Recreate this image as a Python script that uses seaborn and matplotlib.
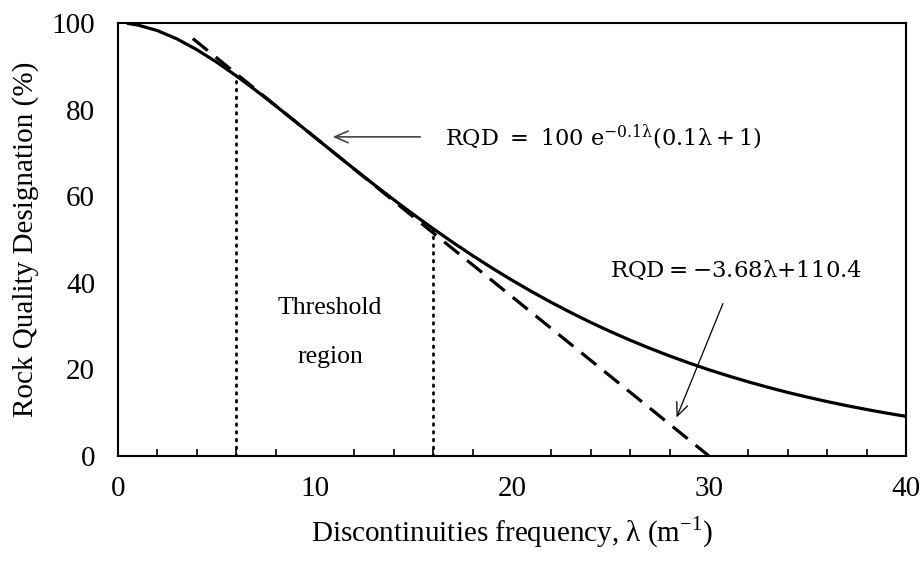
import matplotlib
matplotlib.use("Agg")
import matplotlib.pyplot as plt
import seaborn as sns
import pandas as pd
from matplotlib.ticker import MultipleLocator

# ---- data ----
freq = [0.5, 1, 2, 3, 4, 5, 6, 7, 8, 9, 10, 11, 12, 13, 14, 15, 16, 17, 18, 19, 20,
        21, 22, 23, 24, 25, 26, 27, 28, 29, 30, 31, 32, 33, 34, 35, 36, 37, 38, 39, 40]
rqd_curve = [99.9, 99.53, 98.25, 96.31, 93.84, 90.98, 87.81, 84.42, 80.88, 77.25, 73.58,
             69.90, 66.26, 62.68, 59.18, 55.78, 52.49, 49.32, 46.28, 43.38, 40.60,
             37.96, 35.46, 33.09, 30.84, 28.73, 26.74, 24.87, 23.11, 21.46, 19.91,
             18.47, 17.12, 15.86, 14.68, 13.59, 12.57, 11.62, 10.74, 9.92, 9.16]
lin_x = [3.8, 30.0]
lin_y = [96.4, 0.0]
threshold_x = [6, 16]
threshold_top = [87.8, 52.5]

x_ticks = [0, 10, 20, 30, 40]
y_ticks = [0, 20, 40, 60, 80, 100]

sns.set_theme(style="white")
plt.rcParams['font.family'] = ['Liberation Serif', 'DejaVu Serif']
plt.rcParams['mathtext.fontset'] = 'custom'
plt.rcParams['mathtext.rm'] = 'DejaVu Serif'
plt.rcParams['mathtext.it'] = 'DejaVu Serif:italic'
plt.rcParams['mathtext.sf'] = 'Liberation Serif'

fig, ax = plt.subplots(figsize=(9.23, 5.73), dpi=100)
fig.subplots_adjust(left=118/923, right=906/923, top=1-23/573, bottom=1-456/573)

df_curve = pd.DataFrame({"x": freq, "y": rqd_curve})
df_lin = pd.DataFrame({"x": lin_x, "y": lin_y})

sns.lineplot(data=df_lin, x="x", y="y", ax=ax, color="black", lw=2.3,
             dashes=False, linestyle=(0, (6, 3.2)), zorder=3)
sns.lineplot(data=df_curve, x="x", y="y", ax=ax, color="black", lw=2.3, zorder=4)

for xv, top in zip(threshold_x, threshold_top):
    ax.plot([xv, xv], [0, top], color="black", lw=2.0, linestyle=(0, (0.6, 2.2)),
            dash_capstyle="round", zorder=2)

ax.set_xlim(0, 40)
ax.set_ylim(0, 100)
ax.set_xticks(x_ticks)
ax.set_yticks(y_ticks)
ax.xaxis.set_minor_locator(MultipleLocator(2))

for s in ax.spines.values():
    s.set_color("black")
    s.set_linewidth(1.5)

ax.tick_params(axis="both", which="major", direction="inout", length=11, width=1.5,
               color="black", labelsize=21, labelcolor="black")
ax.tick_params(axis="x", which="major", pad=9)
ax.tick_params(axis="y", which="major", pad=11)
ax.tick_params(axis="x", which="minor", direction="in", length=5, width=1.2,
               color="black", bottom=True)
ax.tick_params(axis="y", which="minor", left=False)

ax.set_xlabel(r"Discontinuities frequency, λ (m$^{\mathsf{-1}}$)", fontsize=21,
              color="black", labelpad=9)
ax.set_ylabel("Rock Quality Designation (%)", fontsize=21, color="black", labelpad=9)

ax.text(10.76, 34.2, "Threshold", ha="center", va="center", fontsize=18.5, color="black")
ax.text(10.76, 22.9, "region", ha="center", va="center", fontsize=18.5, color="black")

ax.text(16.6, 73.7, r"$\mathrm{RQD}\ =\ 100\ \mathrm{e}^{-0.1\mathrm{λ}}(0.1\mathrm{λ} + 1)$",
        ha="left", va="center", fontsize=16.2, color="black")
ax.annotate("", xy=(10.76, 73.7), xytext=(15.48, 73.7),
            arrowprops=dict(arrowstyle="->,head_length=0.8,head_width=0.35",
                            color="#444444", lw=1.2))

ax.text(24.97, 43.0, r"$\mathrm{RQD} = -3.68\mathrm{λ}{+}110.4$",
        ha="left", va="center", fontsize=16.5, color="black")
ax.annotate("", xy=(28.3, 8.3), xytext=(30.76, 35.8),
            arrowprops=dict(arrowstyle="->,head_length=0.8,head_width=0.35",
                            color="black", lw=0.9))

fig.savefig("out.png", dpi=100)
